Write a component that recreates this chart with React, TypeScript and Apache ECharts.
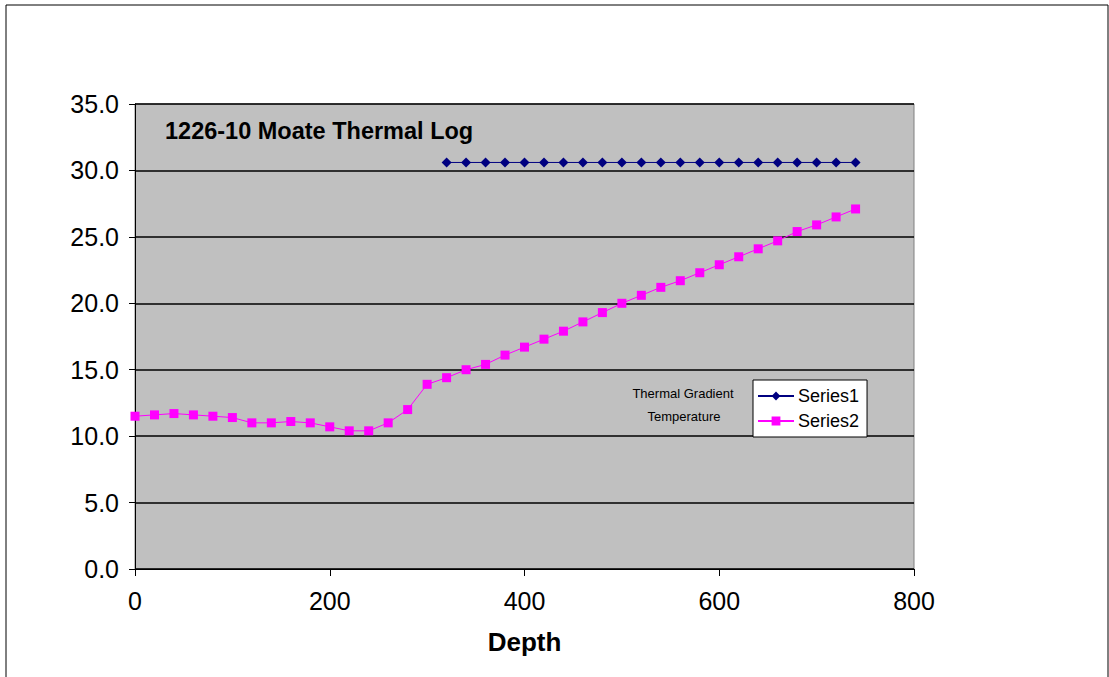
import React, { useEffect, useRef } from "react";
import * as echarts from "echarts";

const depths2 = [0, 20, 40, 60, 80, 100, 120, 140, 160, 180, 200, 220, 240, 260, 280, 300, 320, 340, 360, 380, 400, 420, 440, 460, 480, 500, 520, 540, 560, 580, 600, 620, 640, 660, 680, 700, 720, 740];
const temperature = [11.5, 11.6, 11.7, 11.6, 11.5, 11.4, 11.0, 11.0, 11.1, 11.0, 10.7, 10.4, 10.4, 11.0, 12.0, 13.9, 14.4, 15.0, 15.4, 16.1, 16.7, 17.3, 17.9, 18.6, 19.3, 20.0, 20.6, 21.2, 21.7, 22.3, 22.9, 23.5, 24.1, 24.7, 25.4, 25.9, 26.5, 27.1];
const depths1 = [320, 340, 360, 380, 400, 420, 440, 460, 480, 500, 520, 540, 560, 580, 600, 620, 640, 660, 680, 700, 720, 740];
const gradient = [30.6, 30.6, 30.6, 30.6, 30.6, 30.6, 30.6, 30.6, 30.6, 30.6, 30.6, 30.6, 30.6, 30.6, 30.6, 30.6, 30.6, 30.6, 30.6, 30.6, 30.6, 30.6];
const yTicks = { min: 0, max: 35, interval: 5 };
const xTicks = { min: 0, max: 800, interval: 200 };
const titleText = "1226-10 Moate Thermal Log";
const xName = "Depth";
const sideLabels = ["Thermal Gradient", "Temperature"];
const seriesNames = ["Series1", "Series2"];

const FONT = "'Liberation Sans', Arial, sans-serif";

export default function App() {
  const ref = useRef<HTMLDivElement>(null);
  useEffect(() => {
    document.body.style.margin = "0";
    const chart = echarts.init(ref.current!, undefined, { renderer: "svg" });
    chart.setOption({
      animation: false,
      backgroundColor: "#ffffff",
      textStyle: { fontFamily: FONT },
      grid: {
        left: 135,
        top: 104,
        right: 195,
        bottom: 108,
        show: true,
        backgroundColor: "#C0C0C0",
        borderColor: "#808080",
        borderWidth: 1,
      },
      title: {
        text: titleText,
        left: 160,
        top: 114,
        textStyle: { fontFamily: FONT, fontWeight: "bold", fontSize: 23.5, color: "#000" },
      },
      legend: {
        orient: "vertical",
        left: 753,
        top: 380,
        width: 115,
        backgroundColor: "#ffffff",
        borderColor: "#000000",
        borderWidth: 1,
        padding: [7, 8, 7, 4],
        itemGap: 7,
        itemWidth: 36,
        itemHeight: 11,
        textStyle: { fontFamily: FONT, fontSize: 18, color: "#000", padding: [0, 0, 0, -1] },
        data: seriesNames,
      },
      xAxis: {
        type: "value",
        min: xTicks.min,
        max: xTicks.max,
        interval: xTicks.interval,
        name: xName,
        nameLocation: "middle",
        nameGap: 60,
        nameTextStyle: { fontFamily: FONT, fontWeight: "bold", fontSize: 26, color: "#000" },
        axisLine: { show: true, lineStyle: { color: "#000", width: 1 } },
        axisTick: { show: true, length: 7, lineStyle: { color: "#000" } },
        axisLabel: { fontFamily: FONT, fontSize: 25, color: "#000", margin: 19 },
        splitLine: { show: false },
      },
      yAxis: {
        type: "value",
        min: yTicks.min,
        max: yTicks.max,
        interval: yTicks.interval,
        axisLine: { show: true, lineStyle: { color: "#000", width: 1 } },
        axisTick: { show: true, length: 6, lineStyle: { color: "#000" } },
        axisLabel: {
          fontFamily: FONT,
          fontSize: 25,
          color: "#000",
          margin: 16,
          formatter: (v: number) => v.toFixed(1),
        },
        splitLine: { show: true, lineStyle: { color: "#000", width: 1.5 } },
      },
      graphic: [
        {
          type: "rect",
          shape: { x: 6, y: 5, width: 1102, height: 700 },
          style: { fill: "none", stroke: "#000", lineWidth: 1 },
          silent: true,
          z: 100,
        },
        {
          type: "text",
          x: 683,
          y: 393,
          style: { text: sideLabels[0], fontFamily: FONT, fontSize: 13, fill: "#000", textAlign: "center", textVerticalAlign: "middle" },
          z: 100,
        },
        {
          type: "text",
          x: 684,
          y: 416,
          style: { text: sideLabels[1], fontFamily: FONT, fontSize: 13, fill: "#000", textAlign: "center", textVerticalAlign: "middle" },
          z: 100,
        },
      ],
      series: [
        {
          name: seriesNames[0],
          type: "line",
          data: depths1.map((d, i) => [d, gradient[i]]),
          symbol: "diamond",
          symbolSize: 10,
          itemStyle: { color: "#000080" },
          lineStyle: { color: "#000080", width: 1 },
        },
        {
          name: seriesNames[1],
          type: "line",
          data: depths2.map((d, i) => [d, temperature[i]]),
          symbol: "rect",
          symbolSize: 9,
          itemStyle: { color: "#FF00FF" },
          lineStyle: { color: "#FF00FF", width: 1 },
        },
      ],
    });
    return () => chart.dispose();
  }, []);
  return <div ref={ref} style={{ width: 1109, height: 677 }} />;
}
